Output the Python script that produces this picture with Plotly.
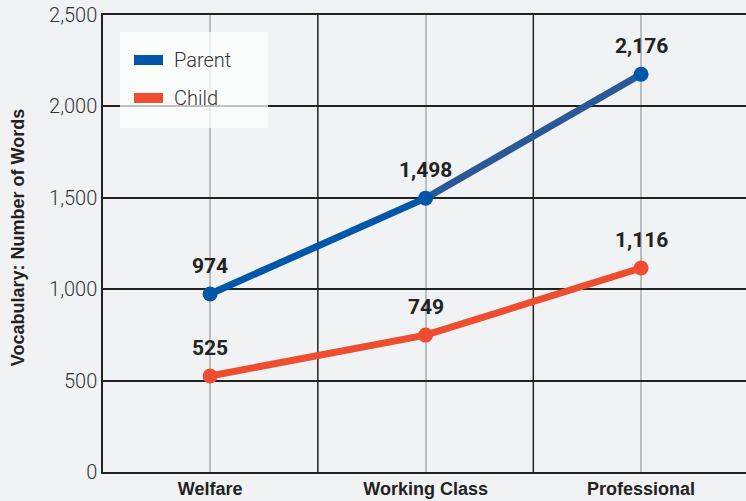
import plotly.graph_objects as go

categories = ["Welfare", "Working Class", "Professional"]
parent_words = [974, 1498, 2176]
child_words = [525, 749, 1116]
y_ticks = [0, 500, 1000, 1500, 2000, 2500]

BLUE = "#0057a8"
BLUE_DARK = "#2b5997"
RED = "#ef4d30"
BG = "#f1f2f4"

fig = go.Figure()

# parent line, second segment is a slightly muted blue in the original
fig.add_trace(go.Scatter(x=categories[:2], y=parent_words[:2], mode="lines",
                         line=dict(color=BLUE, width=7), hoverinfo="skip", showlegend=False))
fig.add_trace(go.Scatter(x=categories[1:], y=parent_words[1:], mode="lines",
                         line=dict(color=BLUE_DARK, width=7), hoverinfo="skip", showlegend=False))
fig.add_trace(go.Scatter(x=categories, y=parent_words, mode="markers", name="Parent",
                         marker=dict(color=BLUE, size=15), showlegend=False))
# child
fig.add_trace(go.Scatter(x=categories, y=child_words, mode="lines+markers", name="Child",
                         line=dict(color=RED, width=7),
                         marker=dict(color=RED, size=15), showlegend=False))

# value labels above the points
for series in [parent_words, child_words]:
    for cat, val in zip(categories, series):
        fig.add_annotation(x=cat, y=val, text=f"{val:,}", showarrow=False,
                           yshift=28, yanchor="middle",
                           font=dict(family="Roboto", size=21, weight="bold", color="#222"))

# black separators between the category columns
for sep in [0.5, 1.5]:
    fig.add_shape(type="line", xref="x", yref="paper", x0=sep, x1=sep, y0=0, y1=1,
                  line=dict(color="#222", width=1.5), layer="below")

# legend box drawn by hand (rectangular swatches)
fig.add_shape(type="rect", xref="paper", yref="paper", x0=0.0264, x1=0.2566, y0=0.7527, y1=0.9628,
              fillcolor="rgba(255,255,255,0.72)", line=dict(width=0), layer="above")
legend_items = [("Parent", BLUE, 0.9015), ("Child", RED, 0.8184)]
for label, col, yc in legend_items:
    fig.add_shape(type="rect", xref="paper", yref="paper", x0=0.0482, x1=0.0933,
                  y0=yc - 0.0109, y1=yc + 0.0109, fillcolor=col, line=dict(width=0), layer="above")
    fig.add_annotation(text=label, xref="paper", yref="paper", x=0.108, y=yc,
                       xanchor="left", yanchor="middle", showarrow=False,
                       font=dict(family="Roboto", size=20, weight=300, color="#333"))

# y axis title, placed further left than plotly's standoff allows
fig.add_annotation(text="Vocabulary: Number of Words", xref="paper", yref="paper",
                   x=-0.132, y=0.512, textangle=-90, showarrow=False,
                   xanchor="center", yanchor="middle",
                   font=dict(family="Liberation Sans", size=18, weight="bold", color="#222"))

fig.update_xaxes(
    range=[-0.497, 2.487],
    showgrid=True, gridcolor="#bdbdbd", gridwidth=2,
    showline=True, linecolor="#222", linewidth=1.5, mirror=True,
    ticks="",
    tickfont=dict(family="Liberation Sans", size=18, weight="bold", color="#222"),
)
fig.update_yaxes(
    range=[0, 2500], tickvals=y_ticks, tickformat=",",
    showgrid=True, gridcolor="#222", gridwidth=1.5, zeroline=False,
    showline=True, linecolor="#222", linewidth=1.5,
    ticks="",
    tickfont=dict(family="Roboto", size=20, weight=300, color="#333"),
)

fig.update_layout(
    width=746, height=501,
    margin=dict(l=103, r=0, t=15, b=29, autoexpand=False),
    paper_bgcolor=BG, plot_bgcolor=BG,
    showlegend=False,
)

# the page body has a default 8px margin, drop it so the figure fills the window
fig.write_html("out.html", config={"displayModeBar": False},
               post_script="document.body.style.margin='0';document.body.style.background='#f1f2f4';")
